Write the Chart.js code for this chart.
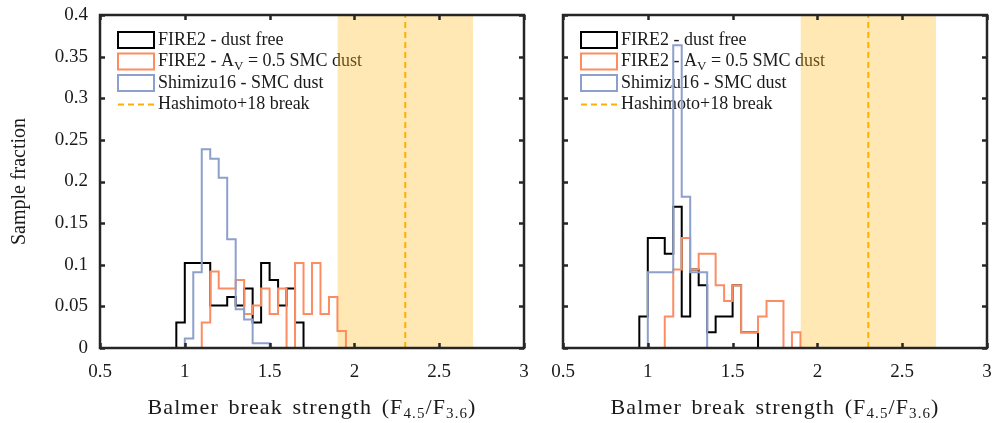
<!DOCTYPE html>
<html><head><meta charset="utf-8">
<script src="https://cdn.jsdelivr.net/npm/chart.js@4.4.0/dist/chart.umd.min.js"></script>
<style>
html,body{margin:0;padding:0;background:#fff;}
#wrap{position:relative;width:997px;height:423px;overflow:hidden;}
canvas{position:absolute;top:0;}
</style></head><body>
<div id="wrap">
<canvas id="left" width="540" height="423" style="left:0px"></canvas>
<canvas id="right" width="457" height="423" style="left:540px"></canvas>
</div>
<script>
// ---------------- DATA ----------------
const xTicks = [0.5, 1, 1.5, 2, 2.5, 3];
const xTickLabels = ['0.5', '1', '1.5', '2', '2.5', '3'];
const yTicks = [0, 0.05, 0.1, 0.15, 0.2, 0.25, 0.3, 0.35, 0.4];
const yTickLabels = ['0', '0.05', '0.1', '0.15', '0.2', '0.25', '0.3', '0.35', '0.4'];
const shadeRange = [1.9, 2.7];     // Hashimoto+18 break range
const breakValue = 2.3;            // Hashimoto+18 break

// Left panel
const leftBlackEdges  = [0.95,1.00,1.05,1.10,1.15,1.20,1.25,1.30,1.35,1.40,1.45,1.50,1.55,1.60,1.65,1.70];
const leftBlackVals   = [0.0306,0.102,0.102,0.102,0.051,0.051,0.0612,0.051,0.0714,0.0306,0.102,0.0816,0.051,0.0714,0.0306];
const leftOrangeEdges = [1.10,1.15,1.20,1.25,1.30,1.35,1.40,1.45,1.50,1.55,1.60,1.65,1.70,1.75,1.80,1.85,1.90,1.95];
const leftOrangeVals  = [0.0306,0.0918,0.0714,0.0714,0.0816,0.0408,0.051,0.0714,0.0408,0.0714,0,0.102,0.0408,0.102,0.0408,0.0612,0.0204];
const leftBlueEdges   = [1.00,1.05,1.10,1.15,1.20,1.25,1.30,1.35,1.40,1.45,1.50];
const leftBlueVals    = [0.0114,0.0909,0.2386,0.2273,0.2045,0.1307,0.0466,0.0341,0.0057,0.0057];

// Right panel
const rightBlackEdges  = [0.95,1.00,1.05,1.10,1.15,1.20,1.25,1.30,1.35,1.40,1.45,1.50,1.55,1.60,1.65];
const rightBlackVals   = [0.0377,0.1321,0.1321,0.1132,0.1698,0.0377,0.0943,0.0755,0.0189,0.0377,0.0377,0.0755,0.0189,0.0189];
const rightOrangeEdges = [1.10,1.15,1.20,1.25,1.30,1.35,1.40,1.45,1.50,1.55,1.60,1.65,1.70,1.75,1.80,1.85,1.90];
const rightOrangeVals  = [0.0377,0.0943,0.1321,0.0943,0.1132,0.1132,0.0755,0.0566,0.0755,0.0189,0.0189,0.0377,0.0566,0.0566,0,0.0189];
const rightBlueEdges   = [1.00,1.05,1.10,1.15,1.20,1.25,1.30,1.35];
const rightBlueVals    = [0.0909,0.0909,0.0909,0.3636,0.1818,0.0909,0.0909];

const legendLabels = [
  [["FIRE2 - dust free", ""]],
  [["FIRE2 - A", ""], ["V", "sub"], [" = 0.5 SMC dust", ""]],
  [["Shimizu16 - SMC dust", ""]],
  [["Hashimoto+18 break", ""]]
];
const xTitleParts = [["Balmer break strength (F", ""], ["4.5", "sub"], ["/F", ""], ["3.6", "sub"], [")", ""]];
const yTitle = "Sample fraction";

// ---------------- STYLE ----------------
const FONT = '"Liberation Serif", "Times New Roman", serif';
const C_BLACK = '#000000', C_ORANGE = '#fc8d62', C_BLUE = '#8da0cb';
const C_BREAK = '#ffb000', C_SHADE = 'rgba(255,183,20,0.32)', C_AXIS = '#262626';
const C_TEXT = '#1a1a1a';

function steps(edges, vals) {
  const pts = [{x: edges[0], y: 0}];
  for (let i = 0; i < vals.length; i++) pts.push({x: edges[i], y: vals[i]});
  pts.push({x: edges[edges.length - 1], y: 0});
  return pts;
}

function drawParts(ctx, parts, x, y, size, align, spacing) {
  const subSize = Math.round(size * 0.7);
  if (spacing) { ctx.letterSpacing = spacing.letter + 'px'; ctx.wordSpacing = spacing.word + 'px'; }
  let total = 0;
  const widths = parts.map(p => {
    ctx.font = (p[1] === 'sub' ? subSize : size) + 'px ' + FONT;
    const w = ctx.measureText(p[0]).width; total += w; return w;
  });
  let cx = align === 'center' ? x - total / 2 : x;
  ctx.textAlign = 'left';
  ctx.textBaseline = 'middle';
  parts.forEach((p, i) => {
    const sub = p[1] === 'sub';
    ctx.font = (sub ? subSize : size) + 'px ' + FONT;
    ctx.fillText(p[0], cx, y + (sub ? size * 0.28 : 0));
    cx += widths[i];
  });
  if (spacing) { ctx.letterSpacing = '0px'; ctx.wordSpacing = '0px'; }
}

function framePlugin() {
  return {
    id: 'frame',
    beforeDatasetsDraw(chart) {
      const ctx = chart.ctx, a = chart.chartArea;
      ctx.save();
      const colors = [C_BLACK, C_ORANGE, C_BLUE];
      const bx = a.left + 18, bw = 36, bh = 16;
      legendLabels.forEach((parts, i) => {
        const cy = a.top + 25 + i * 21.5;
        if (i < 3) {
          ctx.strokeStyle = colors[i]; ctx.lineWidth = 2; ctx.setLineDash([]);
          ctx.strokeRect(bx, cy - bh / 2, bw, bh);
        } else {
          ctx.strokeStyle = C_BREAK; ctx.lineWidth = 2; ctx.setLineDash([6, 4]);
          ctx.beginPath(); ctx.moveTo(bx, cy); ctx.lineTo(bx + bw, cy); ctx.stroke();
          ctx.setLineDash([]);
        }
        ctx.fillStyle = C_TEXT;
        drawParts(ctx, parts, bx + bw + 4, cy, 18, 'left');
      });
      ctx.restore();
    },
    afterDatasetsDraw(chart) {
      const ctx = chart.ctx, a = chart.chartArea;
      const xs = chart.scales.x, ys = chart.scales.y;
      ctx.save();
      ctx.strokeStyle = C_AXIS; ctx.lineWidth = 2.5; ctx.setLineDash([]);
      ctx.beginPath();
      const tl = 5;
      xs.ticks.forEach(t => {
        const px = Math.round(xs.getPixelForValue(t.value)) + 0.5;
        ctx.moveTo(px, a.bottom); ctx.lineTo(px, a.bottom - tl);
        ctx.moveTo(px, a.top); ctx.lineTo(px, a.top + tl);
      });
      ys.ticks.forEach(t => {
        const py = Math.round(ys.getPixelForValue(t.value)) + 0.5;
        ctx.moveTo(a.left, py); ctx.lineTo(a.left + tl, py);
        ctx.moveTo(a.right, py); ctx.lineTo(a.right - tl, py);
      });
      ctx.stroke();
      ctx.strokeRect(a.left, a.top, a.right - a.left, a.bottom - a.top);
      ctx.restore();
    },
    afterDraw(chart) {
      const ctx = chart.ctx, a = chart.chartArea;
      ctx.save();
      ctx.fillStyle = C_TEXT;
      drawParts(ctx, xTitleParts, (a.left + a.right) / 2, 408, 22, 'center', {letter: 1.1, word: 3});
      ctx.restore();
    }
  };
}

function makeChart(id, black, orange, blue, opts) {
  const datasets = [
    {label: 'FIRE2 - dust free', data: steps(black[0], black[1]), borderColor: C_BLACK, borderWidth: 2, stepped: 'before', order: 2, fill: false},
    {label: 'FIRE2 - AV = 0.5 SMC dust', data: steps(orange[0], orange[1]), borderColor: C_ORANGE, borderWidth: 2, stepped: 'before', order: 1, fill: false},
    {label: 'Shimizu16 - SMC dust', data: steps(blue[0], blue[1]), borderColor: C_BLUE, borderWidth: 2, stepped: 'before', order: 0, fill: false},
    {label: 'Hashimoto+18 break', data: [{x: breakValue, y: 0}, {x: breakValue, y: 0.4}], borderColor: C_BREAK, borderWidth: 2, borderDash: [6, 4], order: 3, fill: false},
    {label: 'range', data: [{x: shadeRange[0], y: 0.4}, {x: shadeRange[1], y: 0.4}], borderWidth: 0, borderColor: 'rgba(0,0,0,0)', backgroundColor: C_SHADE, fill: 'origin', order: 4}
  ];
  return new Chart(document.getElementById(id), {
    type: 'line',
    data: {datasets},
    options: {
      responsive: false, animation: false, events: [],
      layout: {padding: {left: 0, right: opts.padRight, top: 15, bottom: 0}},
      elements: {point: {radius: 0}, line: {tension: 0}},
      plugins: {legend: {display: false}, tooltip: {enabled: false}},
      scales: {
        x: {
          type: 'linear', min: xTicks[0], max: xTicks[xTicks.length - 1],
          afterBuildTicks: s => { s.ticks = xTicks.map(v => ({value: v})); },
          afterFit: s => { s.height = 75; s.paddingLeft = 0; s.paddingRight = 0; },
          grid: {display: false, drawTicks: false},
          border: {display: false},
          ticks: {padding: 13, color: C_TEXT, font: {family: FONT, size: 19}, maxRotation: 0,
                  callback: (v, i) => xTickLabels[i]}
        },
        y: {
          type: 'linear', min: yTicks[0], max: yTicks[yTicks.length - 1],
          afterBuildTicks: s => { s.ticks = yTicks.map(v => ({value: v})); },
          afterFit: s => { s.width = opts.yWidth; s.paddingTop = 0; s.paddingBottom = 0; },
          grid: {display: false, drawTicks: false},
          border: {display: false},
          ticks: {display: opts.yLabels, padding: 12, color: C_TEXT, font: {family: FONT, size: 19},
                  callback: (v, i) => yTickLabels[i]},
          title: {display: opts.yLabels, text: yTitle, color: C_TEXT, font: {family: FONT, size: 20}, padding: {top: 8, bottom: 0}}
        }
      }
    },
    plugins: [framePlugin()]
  });
}

makeChart('left', [leftBlackEdges, leftBlackVals], [leftOrangeEdges, leftOrangeVals], [leftBlueEdges, leftBlueVals],
  {padRight: 16, yWidth: 100, yLabels: true});
makeChart('right', [rightBlackEdges, rightBlackVals], [rightOrangeEdges, rightOrangeVals], [rightBlueEdges, rightBlueVals],
  {padRight: 10, yWidth: 23, yLabels: false});
</script>
</body></html>
